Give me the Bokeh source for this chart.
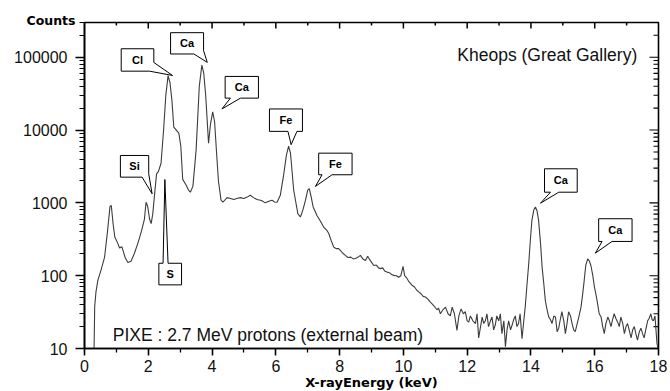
import math
from bokeh.plotting import figure
from bokeh.models import FixedTicker, Label, NumeralTickFormatter, Title
from bokeh.core.properties import value
from bokeh.embed import file_html
from bokeh.resources import INLINE

# ---------------- data ----------------
energy = [0.30, 0.32, 0.36, 0.42, 0.52, 0.63, 0.72, 0.80, 0.84, 0.90, 0.95, 1.04, 1.10, 1.17,
          1.28, 1.36, 1.46, 1.56, 1.67, 1.78, 1.88, 1.93, 1.98, 2.04, 2.09, 2.14, 2.19, 2.26,
          2.32, 2.40, 2.48, 2.55, 2.62, 2.68, 2.74, 2.80, 2.88, 2.96, 3.02, 3.08, 3.19, 3.26,
          3.32, 3.40, 3.50, 3.60, 3.68, 3.74, 3.80, 3.89, 3.95, 4.02, 4.08, 4.14, 4.20, 4.28,
          4.34, 4.47, 4.58, 4.68, 4.80, 4.89, 5.00, 5.10, 5.20, 5.30, 5.41, 5.55, 5.67, 5.78,
          5.88, 5.96, 6.04, 6.14, 6.25, 6.33, 6.40, 6.46, 6.56, 6.69, 6.77, 6.85, 6.93, 7.00,
          7.05, 7.11, 7.17, 7.29, 7.40, 7.50, 7.60, 7.66, 7.74, 7.82, 7.90, 7.97, 8.05, 8.12,
          8.18, 8.26, 8.35, 8.43, 8.50, 8.58, 8.65, 8.73, 8.81, 8.88, 8.91, 8.97, 9.07, 9.15,
          9.22, 9.28, 9.35, 9.42, 9.49, 9.56, 9.63, 9.70, 9.78, 9.85, 9.92, 9.99, 10.04, 10.09,
          10.18, 10.27, 10.35, 10.42, 10.48, 10.56, 10.62, 10.69, 10.76, 10.83, 10.90, 10.97,
          11.05, 11.10, 11.16, 11.24, 11.32, 11.40, 11.47, 11.53, 11.60, 11.68, 11.74, 11.81,
          11.88, 11.94, 12.00, 12.05, 12.10, 12.18, 12.26, 12.31, 12.36, 12.42, 12.47, 12.52,
          12.57, 12.62, 12.67, 12.73, 12.78, 12.83, 12.88, 12.93, 12.99, 13.04, 13.09, 13.15,
          13.20, 13.25, 13.30, 13.36, 13.41, 13.46, 13.51, 13.56, 13.61, 13.66, 13.72, 13.78,
          13.82, 13.87, 13.93, 13.98, 14.03, 14.09, 14.14, 14.19, 14.24, 14.30, 14.35, 14.40,
          14.45, 14.50, 14.56, 14.61, 14.66, 14.72, 14.77, 14.82, 14.87, 14.92, 14.97, 15.03,
          15.08, 15.13, 15.18, 15.24, 15.29, 15.34, 15.39, 15.45, 15.50, 15.57, 15.62, 15.67,
          15.72, 15.78, 15.83, 15.88, 15.94, 15.99, 16.04, 16.09, 16.14, 16.20, 16.25, 16.30,
          16.35, 16.41, 16.46, 16.51, 16.56, 16.61, 16.66, 16.72, 16.77, 16.82, 16.88, 16.93,
          16.98, 17.03, 17.08, 17.14, 17.19, 17.24, 17.29, 17.34, 17.40, 17.45, 17.50, 17.55,
          17.60, 17.66, 17.71, 17.76, 17.80, 17.84, 17.89, 17.95, 17.98]
counts = [10, 38, 60, 87, 120, 180, 400, 900, 920, 500, 340, 280, 240, 250,
          175, 152, 158, 200, 276, 400, 600, 1020, 900, 600, 520, 700, 1210, 2500,
          2700, 3500, 10000, 30000, 56000, 45000, 26000, 11000, 10000, 9000, 6000, 2100, 1750, 1500,
          1400, 1700, 5300, 40000, 78000, 60000, 30000, 6600, 12000, 17800, 13000, 5000, 2000, 1100,
          1020, 1180, 1150, 1110, 1160, 1180, 1150, 1200, 1270, 1180, 1110, 1080, 1000, 1050,
          1090, 1030, 1020, 1270, 2500, 4500, 6000, 4800, 1490, 710, 640, 800, 1090, 1500,
          1570, 1200, 880, 670, 560, 465, 420, 380, 300, 245, 235, 235, 215, 200,
          190, 178, 180, 170, 172, 180, 190, 170, 162, 185, 175, 160, 138, 140,
          128, 125, 128, 115, 112, 110, 104, 101, 100, 95, 100, 134, 100, 95,
          82, 74, 70, 63, 60, 56, 52, 51, 48, 44, 41, 38,
          34, 36, 30, 34, 37, 30, 28, 37, 30, 17.7, 28, 35,
          30, 32, 24, 23, 28, 24, 22, 30, 14, 20, 27, 22,
          24, 30, 20, 24, 27, 18, 21, 28, 24, 30, 16, 24,
          10.6, 18, 24, 18, 21, 25, 28, 20, 22, 30, 13.6, 25,
          37, 70, 146, 300, 575, 800, 880, 780, 575, 280, 131, 80,
          46, 35, 27, 25, 22, 28, 27, 17, 19, 25, 32, 24,
          16, 22, 32, 28, 22, 18, 17, 22, 27, 37, 55, 86,
          140, 170, 160, 138, 100, 70, 55, 41, 30, 27, 20, 16,
          22, 27, 24, 20, 25, 30, 26, 23, 20, 27, 22, 16,
          20, 22, 18, 14, 18, 20, 16, 13, 17, 19, 16, 14,
          18, 24, 26, 30, 25, 24, 28, 12, 10]

x_ticks = [0, 2, 4, 6, 8, 10, 12, 14, 16, 18]
x_minor = [1, 3, 5, 7, 9, 11, 13, 15, 17]
y_ticks = [10, 100, 1000, 10000, 100000]

callout_text = ["Cl", "Ca", "Ca", "Fe", "Fe", "Si", "S", "Ca", "Ca"]
callout_x = [2.76, 3.85, 4.31, 6.48, 7.24, 2.12, 2.52, 14.30, 16.02]
callout_y = [56200, 85000, 19500, 6300, 1680, 1334, 2090, 990, 204]

# callout geometry in screen px relative to the tip (x right, y down):
# (left, right, top, bottom, wedge kind, a, b)
callout_shape = [
    (-51.3, -18.7, -26.7, -4.3, "corner", -13.0, -23.0),
    (-36.7, -3.7, -29.7, -8.4, "corner", -11.7, -13.4),
    (3.2, 36.5, -32.5, -10.8, "bottom", 8.5, 18.5),
    (-21.7, 11.3, -35.7, -13.3, "bottom", -3.2, 5.8),
    (3.3, 36.7, -33.3, -11.7, "bottom", 6.7, 16.7),
    (-31.7, -3.4, -38.3, -16.6, "corner", -20.0, -10.0),
    (-6.0, 16.7, 83.7, 105.3, "top", -1.8, 3.2),
    (4.0, 36.7, -34.4, -11.0, "bottom", 10.0, 18.3),
    (3.3, 36.7, -34.4, -11.7, "bottom", 6.7, 16.7),
]

# ---------------- figure ----------------
X0, X1 = 0, 18
Y0, Y1 = 10, 3e5
W, H = 670, 391
ML, MR, MT, MB = 84, 12, 22, 43
FW = W - ML - MR
FH = H - MT - MB
PXX = FW / (X1 - X0)
PYD = FH / math.log10(Y1 / Y0)

p = figure(width=W, height=H, x_range=(X0, X1), y_range=(Y0, Y1), y_axis_type="log",
           output_backend="svg", toolbar_location=None,
           min_border_left=ML, min_border_right=MR, min_border_top=MT, min_border_bottom=MB)
p.outline_line_color = "black"
p.outline_line_width = 1.6
p.xgrid.visible = False
p.ygrid.visible = False
p.background_fill_color = "white"
p.border_fill_color = "white"

FONT = "Liberation Sans"
BOLD = "DejaVu Sans"

# "Counts" label at the top-left corner (as the figure title)
p.title.text = "Counts"
p.title.align = "left"
p.title.offset = -58
p.title.standoff = -10
p.title.text_font = BOLD
p.title.text_font_style = "bold"
p.title.text_font_size = "12.5px"
p.title.text_color = "black"
p.title.vertical_align = "bottom"

minor_y = [m * 10 ** e for e in range(1, 6) for m in range(2, 10) if m * 10 ** e <= Y1]
xt = FixedTicker(ticks=x_ticks, minor_ticks=x_minor)
yt = FixedTicker(ticks=y_ticks, minor_ticks=minor_y)

xa = p.xaxis[0]
xa.ticker = xt
xa.axis_line_width = 1.6
xa.major_tick_line_width = 1.6
xa.minor_tick_line_width = 1.3
xa.major_tick_out = 7
xa.major_tick_in = 0
xa.minor_tick_out = 4
xa.minor_tick_in = 0
xa.major_label_standoff = 4
xa.major_label_text_font = FONT
xa.major_label_text_font_size = "16px"
xa.major_label_text_color = "#111111"

ya = p.yaxis[0]
ya.ticker = yt
ya.formatter = NumeralTickFormatter(format="0")
ya.axis_line_width = 1.6
ya.major_tick_line_width = 1.6
ya.minor_tick_line_width = 1.1
ya.major_tick_out = 9
ya.major_tick_in = 0
ya.minor_tick_out = 5
ya.minor_tick_in = 0
ya.major_label_standoff = 8
ya.major_label_text_font = FONT
ya.major_label_text_font_size = "16px"
ya.major_label_text_color = "#111111"

# x axis title placed below the axis
p.add_layout(Title(text="X-rayEnergy (keV)", align="center", offset=-25, standoff=-4,
                   text_font=BOLD, text_font_style="bold", text_font_size="13px",
                   text_color="black"), "below")

# ---- inward ticks on the top and right frame edges ----
def down(y, px):
    return y * 10 ** (-px / PYD)

tx0, tx1, ty0, ty1 = [], [], [], []
for xv in x_ticks[1:-1]:
    tx0.append(xv); tx1.append(xv); ty0.append(Y1); ty1.append(down(Y1, 6))
for xv in x_minor:
    tx0.append(xv); tx1.append(xv); ty0.append(Y1); ty1.append(down(Y1, 3))
p.segment(tx0, ty0, tx1, ty1, line_color="black", line_width=1.5)

rx0, rx1, ry = [], [], []
for yv in y_ticks[1:]:
    rx0.append(X1); rx1.append(X1 - 9 / PXX); ry.append(yv)
for yv in minor_y:
    rx0.append(X1); rx1.append(X1 - 5 / PXX); ry.append(yv)
p.segment(rx0, ry, rx1, ry, line_color="black", line_width=1.1)

# ---------------- spectrum ----------------
p.line(energy, counts, line_color="#3c3c3c", line_width=1.1)

# ---------------- callouts ----------------
def to_data(tx, ty, dx, dy):
    return tx + dx / PXX, ty * 10 ** (-dy / PYD)

xs_all, ys_all, lx, ly = [], [], [], []
for tx, ty, (l, r, t, b, kind, a, c) in zip(callout_x, callout_y, callout_shape):
    if kind == "bottom":
        pts = [(l, t), (r, t), (r, b), (c, b), (0, 0), (a, b), (l, b)]
    elif kind == "top":
        pts = [(l, t), (a, t), (0, 0), (c, t), (r, t), (r, b), (l, b)]
    else:  # corner: right edge point a (dy), bottom point c (dx)
        pts = [(l, t), (r, t), (r, a), (0, 0), (c, b), (l, b)]
    xs, ys = [], []
    for dx, dy in pts:
        X, Y = to_data(tx, ty, dx, dy)
        xs.append(X)
        ys.append(Y)
    xs_all.append(xs)
    ys_all.append(ys)
    cx, cy = to_data(tx, ty, (l + r) / 2, (t + b) / 2)
    lx.append(cx)
    ly.append(cy)

p.patches(xs_all, ys_all, fill_color="white", line_color="black", line_width=1.0)
p.text(x=lx, y=ly, text=callout_text, text_align="center", text_baseline="middle",
       text_font=value(FONT), text_font_style="bold", text_font_size="11px", text_color="black")

# ---------------- texts ----------------
p.add_layout(Label(x=11.69, y=1.06e5, text="Kheops (Great Gallery)", text_font=FONT,
                   text_font_size="17.5px", text_color="#111111", text_baseline="alphabetic"))
p.add_layout(Label(x=0.887, y=15.1, text="PIXE : 2.7 MeV protons (external beam)", text_font=FONT,
                   text_font_size="17.5px", text_color="#111111", text_baseline="alphabetic"))

open("out.html", "w").write(file_html(p, INLINE))
